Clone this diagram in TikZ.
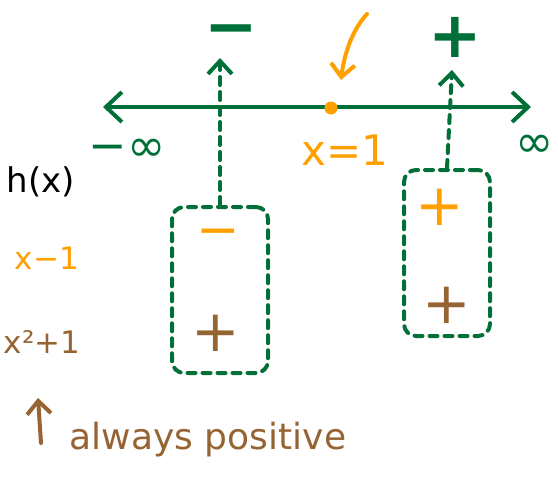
\documentclass[tikz,border=0pt]{standalone}
\usepackage{fontspec}
\setmainfont{DejaVu Sans}
\usetikzlibrary{arrows.meta}
\definecolor{pgreen}{RGB}{0,112,56}
\definecolor{porange}{RGB}{255,160,0}
\definecolor{pbrown}{RGB}{150,100,50}
\begin{document}
\begin{tikzpicture}[x=1pt,y=-1pt,
  line cap=round, line join=round,
  axisline/.style={draw=pgreen, line width=4pt},
  dashline/.style={draw=pgreen, line width=4pt, dash pattern=on 8pt off 7pt},
  signbox/.style={dashline, rectangle, rounded corners=12pt, inner sep=0pt},
  lbl/.style={inner sep=0pt},
  tip/.style={-{Straight Barb[length=13pt,width=24pt,line width=4pt]}}]
\useasboundingbox (0,0) rectangle (558,483);

% axis
\coordinate (axL) at (103,107);
\coordinate (axR) at (531,107);
\draw[axisline, {Straight Barb[length=16pt,width=30pt]}-{Straight Barb[length=16pt,width=30pt]}] (axL) -- (axR);

% infinity labels
\node[lbl, text=pgreen, font=\fontsize{46}{48}\selectfont] (ninf) at (127,150) {−∞};
\node[lbl, text=pgreen, font=\fontsize{46}{48}\selectfont] (pinf) at (535,146) {∞};

% x = 1
\node[circle, fill=porange, inner sep=0pt, minimum size=13pt] (dot) at (331,108) {};
\node[lbl, text=porange, font=\fontsize{42}{44}\selectfont] (x1) at (345,150) {x=1};
\coordinate (oarr) at (367,14);
\coordinate (otip) at (341,80);
\draw[draw=porange, line width=4pt, tip] (oarr) .. controls (352,30) and (344,55) .. (otip);

% signs on top
\node[lbl, text=pgreen, font=\bfseries\fontsize{64}{66}\selectfont] (sminus) at (231,37) {−};
\node[lbl, text=pgreen, font=\bfseries\fontsize{64}{66}\selectfont] (splus) at (455,37) {+};

% boxes
\node[signbox, minimum width=96pt, minimum height=166pt] (boxL) at (220,290) {};
\node[signbox, minimum width=86pt, minimum height=166pt] (boxR) at (447,253) {};
\coordinate (tipL) at (220,58);
\coordinate (tipR) at (452,70);
\draw[dashline, tip] (boxL.north) -- (tipL);
\draw[dashline, tip] (boxR.north) -- (tipR);

% box contents
\node[lbl, text=porange, font=\fontsize{52}{54}\selectfont] (lo) at (218,238) {−};
\node[lbl, text=pbrown, font=\fontsize{58}{60}\selectfont] (lb) at (216,333) {+};
\node[lbl, text=porange, font=\fontsize{58}{60}\selectfont] (ro) at (440,207) {+};
\node[lbl, text=pbrown, font=\fontsize{58}{60}\selectfont] (rb) at (447,305) {+};

% factor labels
\node[lbl, text=black, font=\fontsize{34}{36}\selectfont] (hx) at (41,182) {h(x)};
\node[lbl, text=porange, font=\fontsize{31}{33}\selectfont] (f1) at (47,258) {x−1};
\node[lbl, text=pbrown, font=\fontsize{31}{33}\selectfont] (f2) at (42,342) {x²+1};

% always positive
\node[lbl, text=pbrown, font=\fontsize{36}{38}\selectfont] (ap) at (208,440) {always positive};
\coordinate (barr) at (41,443);
\coordinate (btip) at (38,398);
\draw[draw=pbrown, line width=4pt, tip] (barr) -- (btip);
\end{tikzpicture}
\end{document}
